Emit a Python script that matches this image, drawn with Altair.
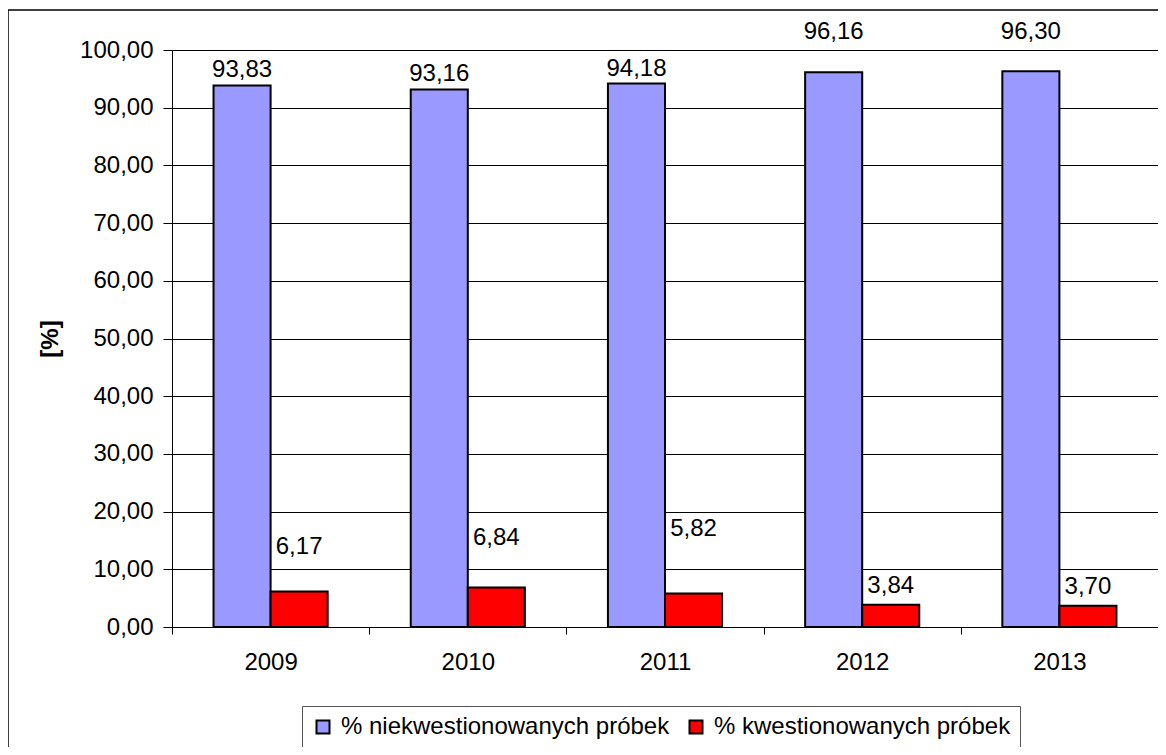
import altair as alt
import pandas as pd

years = ["2009", "2010", "2011", "2012", "2013"]
series_names = ["% niekwestionowanych próbek", "% kwestionowanych próbek"]
niekw = [93.83, 93.16, 94.18, 96.16, 96.30]
kw = [6.17, 6.84, 5.82, 3.84, 3.70]
labels_niekw = ["93,83", "93,16", "94,18", "96,16", "96,30"]
labels_kw = ["6,17", "6,84", "5,82", "3,84", "3,70"]
colors = ["#9999FF", "#FF0000"]

# label placement (pixel offset of label centre above bar top), as in the original
off_niekw = [16, 15, 15, 40, 39]
off_kw = [44, 50, 64, 19, 19]

FONT = "Liberation Sans"
FS = 24
W, H = 986, 577
PX_PER_UNIT = H / 100.0

rows = []
for i, y in enumerate(years):
    rows.append({"year": y, "series": series_names[0], "value": niekw[i],
                 "label": labels_niekw[i], "off": off_niekw[i]})
    rows.append({"year": y, "series": series_names[1], "value": kw[i],
                 "label": labels_kw[i], "off": off_kw[i]})
df = pd.DataFrame(rows)

x_enc = alt.X("year:N", sort=years, title=None,
              scale=alt.Scale(paddingInner=0, paddingOuter=0),
              axis=alt.Axis(labelAngle=0, tickBand="extent", tickSize=7,
                            labelPadding=16, domainColor="black", tickColor="black",
                            labelFont=FONT, labelFontSize=FS, labelColor="black",
                            grid=False))
xoff = alt.XOffset("series:N", sort=series_names,
                   scale=alt.Scale(domain=series_names, paddingOuter=0.728, paddingInner=0))

base = alt.Chart(df)

bars = base.mark_bar(stroke="black", strokeWidth=2).encode(
    x=x_enc,
    xOffset=xoff,
    y=alt.Y("value:Q", scale=alt.Scale(domain=[0, 100], nice=False),
            title="[%]",
            axis=alt.Axis(values=list(range(0, 101, 10)),
                          labelExpr="replace(format(datum.value, '.2f'), '.', ',')",
                          tickSize=9, labelPadding=10, domainColor="black",
                          tickColor="black", gridColor="black", gridWidth=1,
                          labelFont=FONT, labelFontSize=FS, labelColor="black",
                          titleFont=FONT, titleFontSize=FS, titleFontWeight="bold",
                          titleColor="black", titleX=-122, titleY=H / 2,
                          titleBaseline="middle", titleAngle=270)),
    color=alt.Color("series:N", sort=series_names,
                    scale=alt.Scale(domain=series_names, range=colors),
                    legend=alt.Legend(title=None, orient="none", legendX=130, legendY=656,
                                      direction="horizontal", symbolType="square",
                                      symbolSize=169, symbolStrokeColor="black",
                                      symbolStrokeWidth=2, labelFont=FONT,
                                      labelFontSize=FS, labelColor="black",
                                      strokeColor="#555555", padding=9,
                                      columnPadding=14, labelOffset=6,
                                      labelLimit=600)),
)

texts = base.transform_calculate(
    ly=f"datum.value + datum.off / {PX_PER_UNIT}"
).mark_text(font=FONT, fontSize=FS, color="black", baseline="middle").encode(
    x=alt.X("year:N", sort=years),
    xOffset=xoff,
    y=alt.Y("ly:Q"),
    text="label:N",
)

frame = alt.Chart(alt.Data(values=[{}])).mark_rect(
    filled=False, stroke="black", strokeWidth=1.5
).encode(
    x=alt.value(-164), x2=alt.value(1100),
    y=alt.value(-40), y2=alt.value(800),
)

chart = alt.layer(frame, bars, texts).properties(
    width=W, height=H,
    autosize=alt.AutoSizeParams(type="none"),
    padding={"left": 164, "top": 42, "right": 0, "bottom": 120},
).configure_view(stroke=None).configure(background="white")

chart.save("out.html", embed_options={"renderer": "svg", "actions": False})
